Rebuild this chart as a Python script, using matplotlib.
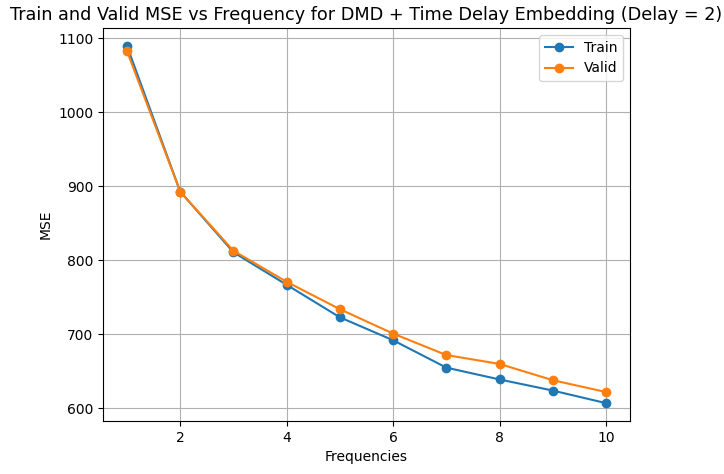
import numpy as np
import matplotlib
matplotlib.use("Agg")
import matplotlib.pyplot as plt

freqs = [1, 2, 3, 4, 5, 6, 7, 8, 9, 10]
train_mse = [1090, 893, 811, 767, 723, 692, 655, 639, 624, 607]
valid_mse = [1083, 893, 813, 771, 734, 701, 672, 660, 638, 622]

fig = plt.figure(figsize=(7.24, 4.74), dpi=100)
ax = fig.add_subplot(1, 1, 1)
fig.subplots_adjust(left=103/724, right=630/724, top=1-28/474, bottom=1-421/474)

ax.plot(freqs, train_mse, marker='o', label='Train')
ax.plot(freqs, valid_mse, marker='o', label='Valid')
ax.set_xlabel('Frequencies')
ax.set_ylabel('MSE')
ax.set_title('Train and Valid MSE vs Frequency for DMD + Time Delay Embedding (Delay = 2)',
             fontsize=12.7)
ax.legend()
ax.grid()

fig.savefig('out.png')
